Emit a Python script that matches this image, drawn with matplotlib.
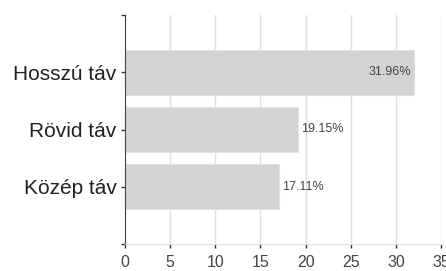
import matplotlib
matplotlib.use('Agg')
import matplotlib.pyplot as plt

# данные
categories = ['Közép táv', 'Rövid táv', 'Hosszú táv']
values = [17.11, 19.15, 31.96]
x_ticks = [0, 5, 10, 15, 20, 25, 30, 35]

plt.rcParams['font.family'] = ['Liberation Sans', 'DejaVu Sans']

fig = plt.figure(figsize=(4.46, 2.71), dpi=100)
ax = fig.add_axes([125 / 446, 27 / 271, 316 / 446, 229 / 271])

y_pos = [1, 2, 3]
ax.barh(y_pos, values, height=0.79, color='#d3d3d3', edgecolor='#e2e2e2', linewidth=0.8, zorder=2)

# подписи значений
for y, v in zip(y_pos, values):
    label = f'{v:.2f}%'
    if v > 25:
        ax.text(v - 0.3, y, label, ha='right', va='center', fontsize=9, color='#444444', zorder=3)
    else:
        ax.text(v + 0.3, y, label, ha='left', va='center', fontsize=9, color='#444444', zorder=3)

ax.set_xlim(0, 35)
ax.set_ylim(0, 4)
ax.set_xticks(x_ticks)
ax.set_xticklabels([str(t) for t in x_ticks], fontsize=11.5, color='#444444')
ax.set_yticks([0, 1, 2, 3, 4])
ax.set_yticklabels(['', categories[0], categories[1], categories[2], ''], fontsize=15, color='#222222')

ax.grid(axis='x', color='#e0e0e0', linewidth=1, zorder=0)
ax.set_axisbelow(True)

for s in ['top', 'right']:
    ax.spines[s].set_visible(False)
ax.spines['bottom'].set_color('#e0e0e0')
ax.spines['left'].set_color('#444444')
ax.tick_params(axis='x', length=3, width=1, color='#333333', pad=5)
ax.tick_params(axis='y', length=3, width=1, color='#333333', pad=3)

fig.savefig('out.png', dpi=100)
